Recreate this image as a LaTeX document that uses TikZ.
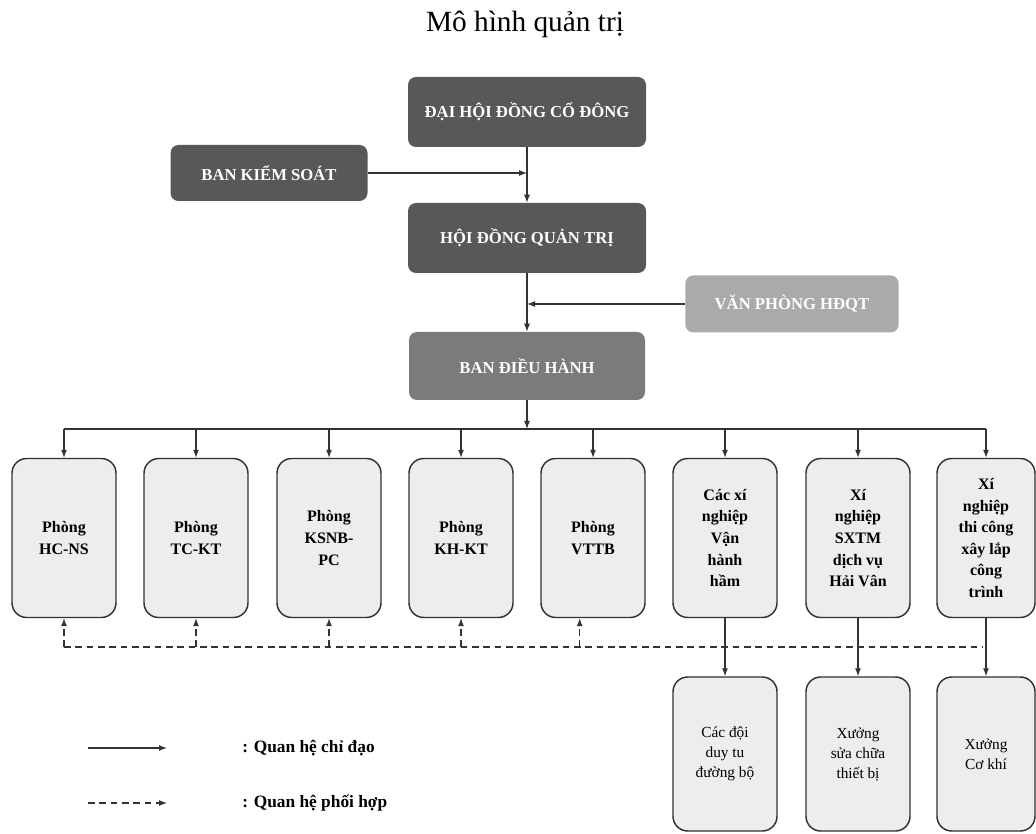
\documentclass[tikz,border=0pt]{standalone}
\usepackage{fontspec}
\setmainfont{Liberation Serif}
\usetikzlibrary{arrows.meta}

\definecolor{boardgray}{HTML}{585858}
\definecolor{execgray}{HTML}{7B7B7B}
\definecolor{officegray}{HTML}{AAAAAA}
\definecolor{unitfill}{HTML}{EDEDED}
\definecolor{linegray}{HTML}{333333}

\tikzstyle{heading}=[inner sep=0pt, font=\fontsize{22}{26}\selectfont]
\tikzstyle{board}=[fill=boardgray, rounded corners=6pt, inner sep=0pt, text=white, font=\fontsize{12.5}{14}\selectfont\bfseries]
\tikzstyle{exec}=[board, fill=execgray]
\tikzstyle{office}=[board, fill=officegray]
\tikzstyle{unit}=[draw=linegray, line width=1.1pt, fill=unitfill, rounded corners=11pt, inner sep=0pt, align=center, minimum width=78pt, minimum height=119.25pt, font=\fontsize{12}{16.2}\selectfont\bfseries]
\tikzstyle{workshop}=[unit, minimum height=115.5pt, font=\fontsize{11.5}{15}\selectfont]
\tikzstyle{note}=[inner sep=0pt, font=\fontsize{13}{15}\selectfont\bfseries]
\tikzstyle{com}=[draw=linegray, line width=0.8pt, -{Latex[length=6pt, width=4.5pt]}]
\tikzstyle{coop}=[com, dash pattern=on 5pt off 3.5pt]

\begin{document}
\begin{tikzpicture}[x=0.75pt, y=-0.75pt]
      \useasboundingbox (0,0) rectangle (1036,834);
      \node[heading, anchor=base] (title) at (525,32) {Mô hình quản trị};

      \node[board, minimum width=178.5pt, minimum height=52.5pt] (dhd) at (527,112) {ĐẠI HỘI ĐỒNG CỔ ĐÔNG};
      \node[board, minimum width=147.75pt, minimum height=42pt] (bks) at (269,173) {BAN KIỂM SOÁT};
      \node[board, minimum width=178.5pt, minimum height=52.5pt] (hdq) at (527,238) {HỘI ĐỒNG QUẢN TRỊ};
      \node[office, minimum width=160pt, minimum height=42.75pt] (vp) at (792,304) {VĂN PHÒNG HĐQT};
      \node[exec, minimum width=177pt, minimum height=51pt] (bdh) at (527,366) {BAN ĐIỀU HÀNH};

      \node[unit] (u1) at (64,538) {Phòng\\HC-NS};
      \node[unit] (u2) at (196,538) {Phòng\\TC-KT};
      \node[unit] (u3) at (329,538) {Phòng\\KSNB-\\PC};
      \node[unit] (u4) at (461,538) {Phòng\\KH-KT};
      \node[unit] (u5) at (593,538) {Phòng\\VTTB};
      \node[unit] (u6) at (725,538) {Các xí\\nghiệp\\Vận\\hành\\hầm};
      \node[unit] (u7) at (858,538) {Xí\\nghiệp\\SXTM\\dịch vụ\\Hải Vân};
      \node[unit, minimum width=73.5pt] (u8) at (986,538) {Xí\\nghiệp\\thi công\\xây lắp\\công\\trình};

      \node[workshop] (w1) at (725,754) {Các đội\\duy tu\\đường bộ};
      \node[workshop] (w2) at (858,754) {Xưởng\\sửa chữa\\thiết bị};
      \node[workshop, minimum width=73.5pt] (w3) at (986,754) {Xưởng\\Cơ khí};

      % top of the chart
      \coordinate (j1) at (dhd.south |- bks.east);
      \coordinate (j2) at (hdq.south |- vp.west);
      \draw[com] (dhd) to (hdq);
      \draw[com] (bks.east) to (j1);
      \draw[com] (hdq) to (bdh);
      \draw[com] (vp.west) to (j2);

      % bus to the units
      \coordinate (bus) at (527,429);
      \draw[com] (bdh) to (bus);
      \draw[draw=linegray, line width=0.8pt] (u1.north |- bus) -- (u8.north |- bus);
      \draw[com] (u1.north |- bus) to (u1.north);
      \draw[com] (u2.north |- bus) to (u2.north);
      \draw[com] (u3.north |- bus) to (u3.north);
      \draw[com] (u4.north |- bus) to (u4.north);
      \draw[com] (u5.north |- bus) to (u5.north);
      \draw[com] (u6.north |- bus) to (u6.north);
      \draw[com] (u7.north |- bus) to (u7.north);
      \draw[com] (u8.north |- bus) to (u8.north);

      % coordination line
      \coordinate (dend) at (983,647);
      \draw[coop, -] (u1.south |- dend) -- (dend);
      \draw[coop] (u1.south |- dend) to (u1.south);
      \draw[coop] (u2.south |- dend) to (u2.south);
      \draw[coop] (u3.south |- dend) to (u3.south);
      \draw[coop] (u4.south |- dend) to (u4.south);
      \draw[coop] ([xshift=-10pt]u5.south |- dend) to ([xshift=-10pt]u5.south);

      \draw[com] (u6) to (w1);
      \draw[com] (u7) to (w2);
      \draw[com] (u8) to (w3);

      % legend
      \coordinate (la) at (88,748);
      \coordinate (lb) at (167,748);
      \coordinate (lc) at (88,803);
      \coordinate (ld) at (167,803);
      \draw[com] (la) to (lb);
      \draw[coop] (lc) to (ld);
      \node[note, anchor=west] (n1) at (242,748) {: Quan hệ chỉ đạo};
      \node[note, anchor=west] (n2) at (242,803) {: Quan hệ phối hợp};
\end{tikzpicture}
\end{document}
